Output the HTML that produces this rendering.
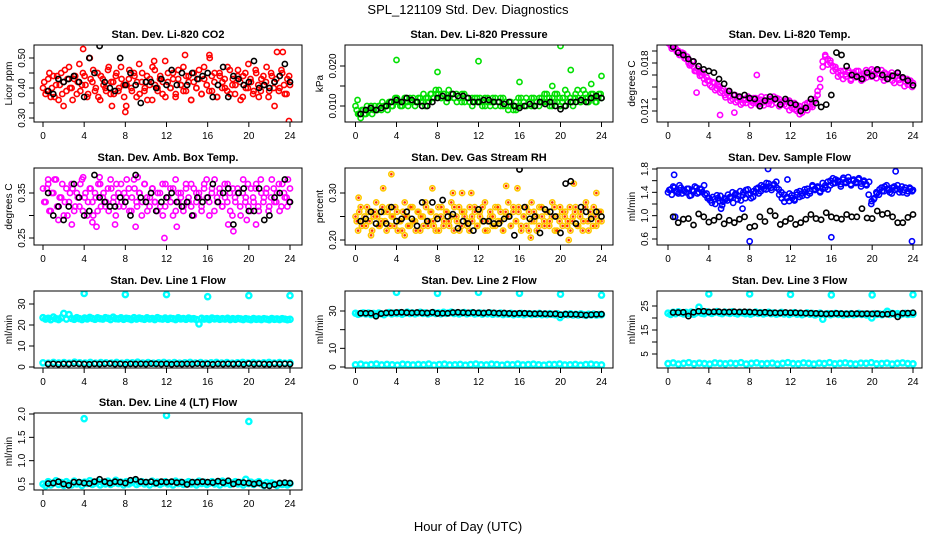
<!DOCTYPE html>
<html><head><meta charset="utf-8"><style>
html,body{margin:0;padding:0;background:#fff;}
svg{display:block;font-family:"Liberation Sans",Arial,sans-serif;}
</style></head><body>
<svg id="chart" width="936" height="540" viewBox="0 0 936 540" xmlns="http://www.w3.org/2000/svg">
<rect x="0" y="0" width="936" height="540" fill="#fff"/>
<text x="468" y="14" font-size="13" text-anchor="middle">SPL_121109  Std. Dev. Diagnostics</text>
<text x="468" y="531" font-size="13" text-anchor="middle">Hour of Day (UTC)</text>
</svg>
<script>
const xTicks=[0,4,8,12,16,20,24];
// CO2
const co2Main=[0.40,0.38,0.43,0.37,0.44,0.41,0.36,0.45,0.42,0.39,0.47,0.40,0.43,0.38,0.48,0.41,0.44,0.37,0.50,0.42,0.39,0.45,0.36,0.43,0.40,0.46,0.38,0.42,0.44,0.39,0.47,0.41,0.34,0.43,0.40,0.45,0.37,0.48,0.42,0.39,0.44,0.41,0.36,0.46,0.40,0.43,0.38,0.49,0.42,0.40,0.45,0.37,0.43,0.41,0.47,0.39,0.44,0.36,0.42,0.40,0.46,0.38,0.43,0.41,0.51,0.39,0.45,0.37,0.44,0.42,0.40,0.47,0.38,0.43,0.41,0.46,0.36,0.44,0.40,0.48,0.42,0.39,0.45,0.37,0.43,0.41,0.47,0.39,0.44,0.42,0.52,0.40,0.45,0.38,0.43,0.41];
const co2MainB=[0.42,0.39,0.45,0.40,0.37,0.44,0.41,0.38,0.46,0.43,0.40,0.36,0.44,0.42,0.39,0.45,0.41,0.38,0.43,0.46,0.40,0.37,0.44,0.41,0.39,0.47,0.42,0.38,0.45,0.40,0.43,0.37,0.41,0.46,0.39,0.44,0.42,0.38,0.45,0.40,0.36,0.43,0.47,0.41,0.39,0.44,0.42,0.37,0.45,0.40,0.43,0.38,0.46,0.41,0.39,0.44,0.42,0.36,0.45,0.40,0.43,0.38,0.47,0.41,0.39,0.44,0.42,0.37,0.45,0.40,0.43,0.39,0.46,0.41,0.38,0.44,0.42,0.37,0.45,0.40,0.43,0.38,0.46,0.41,0.39,0.44,0.42,0.37,0.45,0.40,0.43,0.39,0.46,0.41,0.38,0.44];
const co2OutHours=[3.9,8,2,6.7,16.2,22.5,23.3,23.9,13.8,10.8];
const co2OutVals=[0.53,0.32,0.34,0.34,0.50,0.34,0.52,0.29,0.51,0.49];
const co2Black=[0.39,0.38,0.43,0.42,0.43,0.44,0.42,0.37,0.50,0.45,0.54,0.42,0.40,0.39,0.50,0.41,0.45,0.41,0.35,0.42,0.42,0.40,0.43,0.41,0.46,0.41,0.45,0.41,0.45,0.43,0.44,0.45,0.37,0.41,0.47,0.37,0.44,0.43,0.41,0.42,0.49,0.40,0.41,0.40,0.42,0.44,0.48,0.42];
// Pressure
const presMain=[0.010,0.008,0.007,0.009,0.008,0.009,0.010,0.009,0.009,0.010,0.009,0.010,0.010,0.011,0.010,0.011,0.012,0.011,0.010,0.012,0.011,0.012,0.011,0.010,0.011,0.012,0.011,0.010,0.012,0.013,0.012,0.014,0.013,0.012,0.013,0.012,0.014,0.013,0.012,0.013,0.012,0.011,0.013,0.012,0.011,0.012,0.011,0.012,0.011,0.010,0.012,0.011,0.010,0.011,0.012,0.011,0.010,0.012,0.011,0.010,0.011,0.010,0.009,0.010,0.012,0.011,0.010,0.011,0.012,0.010,0.011,0.012,0.011,0.013,0.011,0.010,0.012,0.013,0.011,0.010,0.012,0.014,0.011,0.012,0.010,0.013,0.012,0.011,0.014,0.012,0.011,0.013,0.012,0.011,0.013,0.012];
const presMainB=[0.009,0.008,0.009,0.008,0.010,0.009,0.008,0.010,0.009,0.010,0.011,0.010,0.009,0.011,0.010,0.012,0.011,0.010,0.011,0.012,0.010,0.011,0.012,0.011,0.012,0.011,0.013,0.012,0.011,0.013,0.012,0.013,0.014,0.012,0.013,0.011,0.012,0.013,0.012,0.011,0.012,0.013,0.011,0.012,0.011,0.010,0.012,0.011,0.012,0.011,0.010,0.012,0.011,0.012,0.010,0.011,0.012,0.010,0.011,0.009,0.010,0.009,0.011,0.012,0.010,0.011,0.012,0.011,0.010,0.012,0.011,0.010,0.012,0.011,0.013,0.012,0.010,0.011,0.013,0.012,0.011,0.010,0.013,0.012,0.011,0.012,0.014,0.011,0.012,0.013,0.011,0.012,0.013,0.011,0.012,0.013];
const presOutHours=[4,8,12,16,20,21,24,19.2,23,0.2];
const presOutVals=[0.0215,0.0185,0.0212,0.016,0.025,0.019,0.0175,0.015,0.0155,0.0115];
const presBlack=[0.008,0.009,0.0095,0.009,0.0095,0.010,0.011,0.0115,0.011,0.012,0.0115,0.011,0.010,0.010,0.011,0.012,0.0125,0.012,0.013,0.0125,0.0125,0.012,0.011,0.011,0.0115,0.0115,0.011,0.011,0.0105,0.011,0.010,0.0095,0.010,0.0105,0.010,0.011,0.0105,0.011,0.010,0.0092,0.010,0.011,0.011,0.0115,0.011,0.012,0.0125,0.012];
// Li-820 temp
const tempMain=[0.0205,0.0202,0.0200,0.0198,0.0195,0.0190,0.0192,0.0185,0.0180,0.0178,0.0175,0.0170,0.0168,0.0165,0.0160,0.0162,0.0158,0.0150,0.0155,0.0148,0.0150,0.0145,0.0140,0.0142,0.0138,0.0135,0.0140,0.0133,0.0136,0.0130,0.0134,0.0138,0.0132,0.0130,0.0136,0.0128,0.0134,0.0131,0.0137,0.0129,0.0133,0.0138,0.0130,0.0135,0.0128,0.0132,0.0126,0.0133,0.0124,0.0130,0.0120,0.0126,0.0118,0.0124,0.0130,0.0125,0.0128,0.0135,0.0140,0.0150,0.0175,0.0188,0.0185,0.0180,0.0176,0.0172,0.0168,0.0165,0.0170,0.0163,0.0168,0.0160,0.0166,0.0170,0.0164,0.0158,0.0167,0.0162,0.0168,0.0172,0.0165,0.0170,0.0166,0.0162,0.0168,0.0160,0.0165,0.0158,0.0163,0.0167,0.0155,0.0160,0.0157,0.0153,0.0158,0.0155];
const tempMainB=[0.0208,0.0198,0.0203,0.0194,0.0190,0.0193,0.0186,0.0188,0.0177,0.0182,0.0170,0.0173,0.0164,0.0168,0.0155,0.0158,0.0152,0.0156,0.0146,0.0152,0.0143,0.0148,0.0137,0.0145,0.0133,0.0140,0.0131,0.0138,0.0128,0.0135,0.0130,0.0134,0.0127,0.0136,0.0132,0.0130,0.0138,0.0127,0.0132,0.0135,0.0128,0.0134,0.0136,0.0126,0.0131,0.0128,0.0133,0.0121,0.0128,0.0122,0.0127,0.0116,0.0122,0.0128,0.0121,0.0131,0.0125,0.0133,0.0145,0.0160,0.0182,0.0190,0.0178,0.0183,0.0170,0.0175,0.0163,0.0170,0.0160,0.0166,0.0171,0.0158,0.0168,0.0162,0.0170,0.0165,0.0160,0.0171,0.0166,0.0163,0.0170,0.0161,0.0167,0.0171,0.0158,0.0166,0.0162,0.0168,0.0155,0.0164,0.0159,0.0162,0.0151,0.0160,0.0156,0.0150];
const tempOutHours=[5.1,8.7,6.5,2.8];
const tempOutVals=[0.0115,0.0165,0.0118,0.0143];
const tempBlack=[0.0200,0.0193,0.0190,0.0185,0.0182,0.0176,0.0172,0.0170,0.0168,0.0160,0.0154,0.0145,0.0140,0.0138,0.0140,0.0136,0.0135,0.0126,0.0133,0.0138,0.0135,0.0128,0.0135,0.0130,0.0128,0.0120,0.0124,0.0135,0.0130,0.0125,0.0128,0.0140,0.0193,0.0190,0.0176,0.0165,0.0163,0.0160,0.0168,0.0164,0.0172,0.0165,0.0160,0.0164,0.0168,0.0162,0.0158,0.0152];
// Amb box temp
const ambMain=[0.36,0.33,0.37,0.31,0.35,0.38,0.32,0.34,0.30,0.36,0.33,0.37,0.31,0.35,0.32,0.38,0.34,0.30,0.36,0.33,0.35,0.31,0.37,0.34,0.32,0.36,0.38,0.33,0.30,0.35,0.37,0.32,0.34,0.36,0.31,0.38,0.33,0.35,0.30,0.37,0.34,0.32,0.36,0.33,0.31,0.35,0.37,0.32,0.34,0.36,0.30,0.38,0.33,0.35,0.31,0.37,0.34,0.32,0.36,0.33,0.35,0.31,0.37,0.34,0.30,0.36,0.38,0.33,0.35,0.32,0.34,0.37,0.31,0.36,0.33,0.35,0.30,0.38,0.34,0.32,0.36,0.33,0.37,0.31,0.35,0.34,0.36,0.32,0.38,0.33,0.35,0.31,0.37,0.34,0.32,0.36];
const ambMainB=[0.33,0.36,0.31,0.35,0.38,0.32,0.34,0.37,0.33,0.30,0.35,0.36,0.32,0.34,0.37,0.31,0.35,0.33,0.36,0.30,0.34,0.37,0.32,0.35,0.33,0.31,0.36,0.34,0.37,0.32,0.33,0.35,0.38,0.31,0.34,0.36,0.32,0.35,0.33,0.37,0.31,0.34,0.36,0.33,0.35,0.32,0.30,0.37,0.34,0.33,0.36,0.31,0.35,0.34,0.32,0.36,0.33,0.37,0.30,0.35,0.34,0.32,0.36,0.38,0.33,0.35,0.31,0.34,0.36,0.32,0.37,0.33,0.35,0.30,0.34,0.36,0.32,0.35,0.33,0.37,0.31,0.34,0.36,0.32,0.38,0.33,0.35,0.31,0.34,0.36,0.33,0.37,0.32,0.35,0.34,0.33];
const ambOutHours=[1.5,2.8,4.8,5.2,7,9,11.8,13,18,18.5,19.8,20.7,5.5,9.2,23.8,0.5,3.9];
const ambOutVals=[0.29,0.28,0.285,0.275,0.28,0.275,0.25,0.275,0.28,0.265,0.29,0.28,0.385,0.385,0.38,0.38,0.385];
const ambBlack=[0.35,0.30,0.32,0.29,0.32,0.37,0.34,0.30,0.31,0.39,0.34,0.33,0.32,0.32,0.34,0.33,0.30,0.39,0.34,0.33,0.35,0.31,0.33,0.34,0.35,0.33,0.32,0.33,0.30,0.34,0.33,0.34,0.37,0.33,0.35,0.36,0.28,0.35,0.36,0.31,0.31,0.36,0.29,0.30,0.34,0.35,0.38,0.33];
// RH
const rhMain=[0.25,0.22,0.27,0.24,0.23,0.26,0.21,0.25,0.28,0.23,0.24,0.26,0.22,0.27,0.25,0.23,0.26,0.24,0.22,0.28,0.25,0.23,0.27,0.24,0.26,0.22,0.25,0.28,0.23,0.26,0.24,0.22,0.27,0.25,0.23,0.26,0.24,0.28,0.22,0.25,0.27,0.23,0.26,0.24,0.22,0.25,0.27,0.23,0.26,0.24,0.28,0.22,0.25,0.23,0.27,0.24,0.26,0.22,0.25,0.28,0.23,0.26,0.24,0.27,0.22,0.25,0.23,0.26,0.28,0.24,0.22,0.27,0.25,0.23,0.26,0.24,0.28,0.22,0.25,0.27,0.23,0.26,0.24,0.22,0.25,0.27,0.23,0.26,0.24,0.28,0.22,0.25,0.27,0.23,0.26,0.24];
const rhMainB=[0.24,0.26,0.23,0.25,0.27,0.24,0.22,0.26,0.25,0.23,0.27,0.24,0.26,0.23,0.25,0.27,0.22,0.24,0.26,0.25,0.23,0.27,0.24,0.22,0.26,0.25,0.23,0.27,0.24,0.26,0.23,0.25,0.22,0.27,0.24,0.26,0.23,0.25,0.27,0.24,0.22,0.26,0.25,0.23,0.27,0.24,0.26,0.23,0.25,0.27,0.22,0.24,0.26,0.25,0.23,0.27,0.24,0.22,0.26,0.25,0.23,0.27,0.24,0.26,0.23,0.25,0.27,0.22,0.24,0.26,0.25,0.23,0.27,0.24,0.26,0.23,0.25,0.27,0.22,0.24,0.26,0.25,0.23,0.27,0.24,0.26,0.23,0.25,0.22,0.27,0.24,0.26,0.23,0.25,0.24,0.26];
const rhOutHours=[3.5,2.7,7.5,14.7,15.8,21.3,20.8,17.1,0.3,23.5,4.8,9.5,10.4,11.3];
const rhOutVals=[0.34,0.31,0.31,0.315,0.31,0.32,0.20,0.205,0.29,0.30,0.21,0.30,0.30,0.30];
const rhBlack=[0.24,0.245,0.26,0.235,0.26,0.235,0.27,0.24,0.245,0.26,0.245,0.23,0.28,0.24,0.28,0.245,0.285,0.25,0.255,0.225,0.24,0.235,0.22,0.265,0.24,0.24,0.235,0.235,0.245,0.25,0.21,0.35,0.27,0.245,0.25,0.215,0.265,0.26,0.25,0.215,0.32,0.325,0.235,0.27,0.26,0.245,0.26,0.25];
// Sample flow
const flowMain=[1.40,1.45,1.50,1.42,1.38,1.48,1.44,1.40,1.46,1.35,1.42,1.48,1.40,1.45,1.52,1.38,1.30,1.22,1.28,1.35,1.25,1.18,1.30,1.26,1.32,1.40,1.36,1.28,1.42,1.35,1.30,1.45,1.38,1.32,1.40,1.48,1.42,1.50,1.45,1.55,1.48,1.52,1.58,1.45,1.40,1.36,1.30,1.25,1.35,1.28,1.40,1.32,1.38,1.45,1.35,1.42,1.50,1.44,1.48,1.40,1.46,1.52,1.45,1.60,1.55,1.62,1.58,1.50,1.65,1.56,1.60,1.52,1.62,1.58,1.64,1.55,1.60,1.52,1.58,1.25,1.30,1.38,1.45,1.42,1.50,1.46,1.40,1.48,1.44,1.52,1.45,1.40,1.48,1.42,1.46,1.44];
const flowMainB=[1.44,1.36,1.48,1.40,1.52,1.38,1.42,1.46,1.34,1.44,1.50,1.38,1.46,1.40,1.36,1.30,1.26,1.32,1.20,1.30,1.34,1.24,1.28,1.36,1.30,1.22,1.38,1.34,1.26,1.40,1.44,1.36,1.30,1.42,1.46,1.38,1.52,1.46,1.56,1.50,1.44,1.54,1.48,1.36,1.30,1.24,1.32,1.38,1.30,1.26,1.36,1.42,1.34,1.40,1.46,1.38,1.52,1.46,1.50,1.42,1.56,1.48,1.58,1.52,1.64,1.56,1.60,1.54,1.62,1.58,1.66,1.54,1.60,1.56,1.62,1.50,1.58,1.54,1.36,1.20,1.28,1.40,1.36,1.48,1.42,1.52,1.44,1.38,1.50,1.46,1.40,1.50,1.44,1.38,1.48,1.42];
const flowOutHours=[0.6,8,16,23.9,9.8,22.3,0.7,11.7,5.2,7.3];
const flowOutVals=[1.70,0.56,0.63,0.56,1.80,1.76,0.98,1.62,1.12,1.12];
const flowBlack=[0.98,0.88,0.94,0.95,0.84,1.03,0.98,0.89,0.92,0.98,0.86,0.92,0.88,0.94,0.98,0.80,0.82,0.98,0.90,1.08,1.00,0.85,0.90,0.95,0.85,0.88,0.94,1.02,0.95,0.93,1.05,0.98,0.96,0.94,1.02,0.98,0.98,1.12,0.96,0.95,1.08,1.02,1.04,0.98,0.88,0.88,0.97,1.02];
// Line flows
const lineOutHours=[4,8,12,16,20,24];
const line1High=[23.5,22.8,23.2,22.5,23.8,23.0,22.6,23.4,25.5,22.8,25.0,23.1,22.7,23.5,23.0,22.6,23.3,22.9,23.6,23.1,22.7,23.4,23.0,22.8,23.5,23.2,22.6,23.7,23.0,22.9,23.4,22.7,23.2,23.0,22.6,23.5,22.8,23.3,23.0,22.7,23.4,22.9,23.1,22.6,23.5,23.0,22.8,23.3,22.7,23.2,23.0,22.6,23.4,22.9,23.1,22.7,23.3,22.9,23.0,22.6,20.5,23.2,22.8,23.0,22.6,23.3,22.9,23.1,22.7,23.0,22.8,23.2,22.6,23.0,22.7,23.1,22.9,22.6,23.0,22.8,22.5,23.1,22.7,22.9,22.6,23.0,22.8,22.5,23.1,22.7,22.9,22.6,23.0,22.8,22.5,22.7];
const line1Low=[2.0,1.8,2.2,1.9,2.1,1.8,2.3,2.0,1.9,2.2,1.8,2.1,2.0,1.9,2.2,1.8,2.1,2.0,2.3,1.9,2.1,1.8,2.0,2.2,1.9,2.1,1.8,2.0,2.2,1.9,2.1,1.8,2.0,2.2,1.9,2.1,1.8,2.0,2.2,1.9,2.1,1.8,2.0,2.2,1.9,2.1,1.8,2.0];
const line1Out=[35,34.5,34.5,33.5,34,34];
const line1Black=[1.4,1.5,1.3,1.5,1.4,1.6,1.5,1.4,1.3,1.5,1.4,1.5,1.6,1.4,1.5,1.3,1.5,1.4,1.5,1.4,1.6,1.5,1.4,1.5,1.3,1.5,1.4,1.5,1.4,1.6,1.4,1.5,1.3,1.5,1.4,1.5,1.4,1.5,1.3,1.6,1.4,1.5,1.4,1.3,1.5,1.4,1.5,1.4];
const line2High=[28.8,28.2,28.6,29.0,28.4,28.9,28.1,28.7,28.3,28.9,28.5,28.0,28.8,29.2,28.4,28.9,28.6,29.1,28.3,28.8,29.4,28.6,29.0,28.5,28.9,29.3,28.7,29.0,28.4,28.8,29.2,28.6,29.0,28.5,29.3,28.7,28.9,29.4,28.6,29.0,28.4,28.9,29.2,28.5,28.8,29.1,28.4,28.7,29.0,28.3,28.8,28.5,29.0,28.2,28.7,28.4,28.9,28.1,28.6,28.3,28.8,28.0,28.5,28.2,28.7,28.0,28.4,28.6,28.1,28.5,28.2,28.7,28.0,28.4,28.1,28.6,28.2,28.0,28.5,26.5,27.8,28.3,28.0,28.5,27.9,28.2,27.8,28.4,28.0,27.7,28.2,27.9,28.3,27.8,28.1,28.0];
const line2Low=[1.2,1.5,1.0,1.3,1.6,1.1,1.4,1.2,1.0,1.5,1.3,1.1,1.4,1.2,1.6,1.0,1.3,1.5,1.1,1.2,1.4,1.0,1.3,1.6,1.2,1.1,1.5,1.3,1.0,1.4,1.2,1.6,1.1,1.3,1.5,1.2,1.0,1.4,1.3,1.6,1.1,1.2,1.4,1.0,1.3,1.5,1.2,1.1];
const line2Out=[40,39.5,40,39.5,39,38.5];
const line2Black=[28.8,28.8,28.8,27.2,28.6,29.0,29.0,29.2,29.3,29.1,29.0,29.2,29.0,28.9,29.3,28.7,28.8,28.8,29.2,29.3,29.1,29.0,29.2,29.0,28.9,29.2,29.0,28.8,28.9,28.7,28.6,28.8,28.8,28.6,28.5,28.6,28.5,28.4,28.5,28.0,28.3,28.2,28.2,28.0,27.8,28.0,28.2,28.3];
const line3High=[22.0,21.5,22.4,21.8,22.6,22.1,21.7,22.3,21.9,22.5,21.6,22.2,24.5,22.0,21.8,22.6,22.3,21.9,22.4,22.7,22.1,21.8,22.5,22.2,21.9,22.6,22.0,21.7,22.4,22.1,21.8,22.3,21.6,22.0,22.5,21.9,22.2,21.7,22.0,22.4,21.8,22.1,21.6,21.9,22.3,21.7,22.0,21.5,21.9,22.2,21.6,21.9,21.4,21.8,22.1,21.6,21.9,21.3,21.7,22.0,19.5,21.6,21.8,21.4,21.7,21.9,21.5,21.8,21.3,21.7,21.5,21.8,21.4,21.6,21.9,21.5,21.7,21.3,21.6,20.0,21.8,21.5,21.7,21.4,21.8,22.8,21.5,21.9,21.6,21.8,21.4,21.7,21.9,21.5,21.8,21.6];
const line3Low=[1.0,1.3,0.8,1.1,1.4,0.9,1.2,1.0,0.8,1.3,1.1,0.9,1.2,1.0,1.4,0.8,1.1,1.3,0.9,1.0,1.2,0.8,1.1,1.4,1.0,0.9,1.3,1.1,0.8,1.2,1.0,1.4,0.9,1.1,1.3,1.0,0.8,1.2,1.1,1.4,0.9,1.0,1.2,0.8,1.1,1.3,1.0,0.9];
const line3Out=[30,30,29.8,29.6,29.6,29.7];
const line3Black=[22.3,22.3,22.4,20.8,22.4,22.8,22.8,22.5,22.6,22.6,22.5,22.5,22.6,22.5,22.6,22.5,22.4,22.2,22.4,22.1,22.2,22.1,22.3,22.2,22.2,22.1,22.0,22.0,21.9,21.8,21.7,21.8,21.9,21.8,21.7,21.8,21.8,21.7,21.8,21.7,21.8,21.5,21.6,21.9,20.5,22.0,22.0,22.2];
const line4Main=[0.50,0.46,0.55,0.48,0.52,0.57,0.49,0.53,0.47,0.55,0.51,0.48,0.56,0.50,0.53,0.47,0.54,0.51,0.57,0.49,0.52,0.55,0.48,0.53,0.50,0.56,0.49,0.52,0.58,0.51,0.54,0.48,0.55,0.50,0.53,0.57,0.49,0.52,0.55,0.50,0.53,0.48,0.56,0.51,0.54,0.49,0.52,0.55,0.50,0.53,0.48,0.56,0.51,0.54,0.49,0.52,0.55,0.50,0.53,0.48,0.56,0.51,0.54,0.49,0.52,0.55,0.50,0.53,0.48,0.56,0.51,0.54,0.49,0.52,0.55,0.50,0.53,0.48,0.60,0.51,0.54,0.49,0.52,0.55,0.50,0.47,0.53,0.48,0.52,0.50,0.47,0.51,0.49,0.50,0.48,0.51];
const line4OutHours=[4,12,20];
const line4OutVals=[1.9,1.97,1.84];
const line4Black=[0.51,0.52,0.55,0.50,0.47,0.54,0.54,0.52,0.51,0.55,0.60,0.55,0.52,0.55,0.54,0.52,0.58,0.60,0.55,0.54,0.55,0.52,0.55,0.54,0.55,0.53,0.54,0.49,0.54,0.54,0.55,0.54,0.53,0.56,0.53,0.57,0.50,0.54,0.53,0.52,0.50,0.52,0.47,0.46,0.49,0.52,0.53,0.52];

const NS="http://www.w3.org/2000/svg";
const svg=document.getElementById('chart');
function mk(tag,attrs,parent){const e=document.createElementNS(NS,tag);for(const k in attrs)e.setAttribute(k,attrs[k]);(parent||svg).appendChild(e);return e;}
const colX=[{l:34,r:302,x0:43,x24:290},{l:345,r:613,x0:355.5,x24:601.5},{l:657,r:922,x0:668,x24:913}];
const rowY=[45,168,291,413];
const H=77;
const evenHours=(n)=>Array.from({length:n},(_,i)=>i*24/(n-1));
const offHours=(n)=>Array.from({length:n},(_,i)=>0.12+i*23.8/(n-1));
const blackHours=(n)=>Array.from({length:n},(_,i)=>0.5+i*0.5);

const panels=[
 {title:"Stan. Dev. Li-820 CO2",c:0,r:0,ylab:"Licor ppm",ref:[0.30,118,0.50,58],ticks:[0.30,0.35,0.40,0.45,0.50],labels:["0.30","","0.40","","0.50"],col:"#ff0000",sw:1.6,
  series:[[evenHours(co2Main.length),co2Main],[offHours(co2MainB.length),co2MainB],[co2OutHours,co2OutVals]],black:co2Black},
 {title:"Stan. Dev. Li-820 Pressure",c:1,r:0,ylab:"kPa",ref:[0.010,106,0.020,66],ticks:[0.010,0.015,0.020],labels:["0.010","","0.020"],col:"#00e000",sw:1.6,
  series:[[evenHours(presMain.length),presMain],[offHours(presMainB.length),presMainB],[presOutHours,presOutVals]],black:presBlack},
 {title:"Stan. Dev. Li-820 Temp.",c:2,r:0,ylab:"degrees C",ref:[0.012,111,0.018,63],ticks:[0.012,0.0135,0.015,0.0165,0.018,0.0195],labels:["0.012","","","","0.018",""],col:"#ff00ff",sw:1.6,
  series:[[evenHours(tempMain.length),tempMain],[offHours(tempMainB.length),tempMainB],[tempOutHours,tempOutVals]],black:tempBlack},
 {title:"Stan. Dev. Amb. Box Temp.",c:0,r:1,ylab:"degrees C",ref:[0.25,238,0.35,193],ticks:[0.25,0.30,0.35],labels:["0.25","","0.35"],col:"#ff00ff",sw:1.6,
  series:[[evenHours(ambMain.length),ambMain],[offHours(ambMainB.length),ambMainB],[ambOutHours,ambOutVals]],black:ambBlack},
 {title:"Stan. Dev. Gas Stream RH",c:1,r:1,ylab:"percent",ref:[0.20,240,0.30,193],ticks:[0.20,0.25,0.30],labels:["0.20","","0.30"],col:"#ffc800",rh:true,sw:1.6,
  series:[[evenHours(rhMain.length),rhMain],[offHours(rhMainB.length),rhMainB],[rhOutHours,rhOutVals]],black:rhBlack},
 {title:"Stan. Dev. Sample Flow",c:2,r:1,ylab:"ml/min",ref:[0.6,239,1.8,169],ticks:[0.6,0.8,1.0,1.2,1.4,1.6,1.8],labels:["0.6","","1.0","","1.4","","1.8"],col:"#0000ff",sw:1.6,
  series:[[evenHours(flowMain.length),flowMain],[offHours(flowMainB.length),flowMainB],[flowOutHours,flowOutVals]],black:flowBlack},
 {title:"Stan. Dev. Line 1 Flow",c:0,r:2,ylab:"ml/min",ref:[0,367,30,304],ticks:[0,10,20,30],labels:["0","10","20","30"],col:"#00ffff",sw:2.4,
  series:[[evenHours(line1High.length),line1High],[evenHours(line1Low.length),line1Low],[lineOutHours,line1Out]],black:line1Black},
 {title:"Stan. Dev. Line 2 Flow",c:1,r:2,ylab:"ml/min",ref:[0,367,30,311],ticks:[0,10,20,30],labels:["0","10","","30"],col:"#00ffff",sw:2.4,
  series:[[evenHours(line2High.length),line2High],[evenHours(line2Low.length),line2Low],[lineOutHours,line2Out]],black:line2Black},
 {title:"Stan. Dev. Line 3 Flow",c:2,r:2,ylab:"ml/min",ref:[5,354,25,306],ticks:[5,10,15,20,25],labels:["5","","15","","25"],col:"#00ffff",sw:2.4,
  series:[[evenHours(line3High.length),line3High],[evenHours(line3Low.length),line3Low],[lineOutHours,line3Out]],black:line3Black},
 {title:"Stan. Dev. Line 4 (LT) Flow",c:0,r:3,ylab:"ml/min",ref:[0.5,484,2.0,414],ticks:[0.5,1.0,1.5,2.0],labels:["0.5","1.0","1.5","2.0"],col:"#00ffff",sw:2.4,
  series:[[evenHours(line4Main.length),line4Main],[line4OutHours,line4OutVals]],black:line4Black}
];

panels.forEach((p,pi)=>{
  const C=colX[p.c], top=rowY[p.r], bot=top+H;
  const g=mk('g',{});
  
  
  const xs=h=>C.x0+(C.x24-C.x0)*h/24;
  const ys=v=>p.ref[1]+(v-p.ref[0])*(p.ref[3]-p.ref[1])/(p.ref[2]-p.ref[0]);
  const t=mk('text',{x:(C.l+C.r)/2,y:top-7,'font-size':11,'font-weight':'bold','text-anchor':'middle'},g);
  t.textContent=p.title;
  
  
  xTicks.forEach(h=>{
    mk('line',{x1:xs(h),x2:xs(h),y1:bot,y2:bot+5,stroke:'#000','stroke-width':1},g);
    const tl=mk('text',{x:xs(h),y:bot+17,'font-size':10,'text-anchor':'middle'},g);
    tl.textContent=h;
    
    
  });
  p.ticks.forEach((v,i)=>{
    const y=ys(v);
    mk('line',{x1:C.l-5,x2:C.l,y1:y,y2:y,stroke:'#000','stroke-width':1},g);
    if(p.labels[i]){
      const yl=mk('text',{x:0,y:0,'font-size':10,'text-anchor':'middle',transform:`translate(${C.l-9},${y}) rotate(-90)`},g);
      yl.textContent=p.labels[i];
      
      
    }
  });
  const ya=mk('text',{x:0,y:0,'font-size':10,'text-anchor':'middle',transform:`translate(${C.l-22},${(top+bot)/2}) rotate(-90)`},g);
  ya.textContent=p.ylab;
  
  
  const cp=mk('clipPath',{id:'cp'+pi},g);
  mk('rect',{x:C.l,y:top,width:C.r-C.l,height:H},cp);
  const pts=mk('g',{'clip-path':`url(#cp${pi})`,fill:'none'},g);
  p.series.forEach(([hs,vs])=>{
    vs.forEach((v,i)=>{
      const c=mk('circle',{cx:xs(hs[i]),cy:ys(v),r:2.6,stroke:p.col,'stroke-width':p.sw},pts);
      
      
      if(p.rh){mk('circle',{cx:xs(hs[i]),cy:ys(v),r:1.3,fill:'#ff3000'},pts);}
    });
  });
  const bh=blackHours(p.black.length);
  p.black.forEach((v,i)=>{
    const c=mk('circle',{cx:xs(bh[i]),cy:ys(v),r:2.6,stroke:'#000','stroke-width':1.6},pts);
    
    
  });
  const box=mk('rect',{x:C.l,y:top,width:C.r-C.l,height:H,fill:'none',stroke:'#000','stroke-width':1},g);
  
  
});
</script>
</body></html>
